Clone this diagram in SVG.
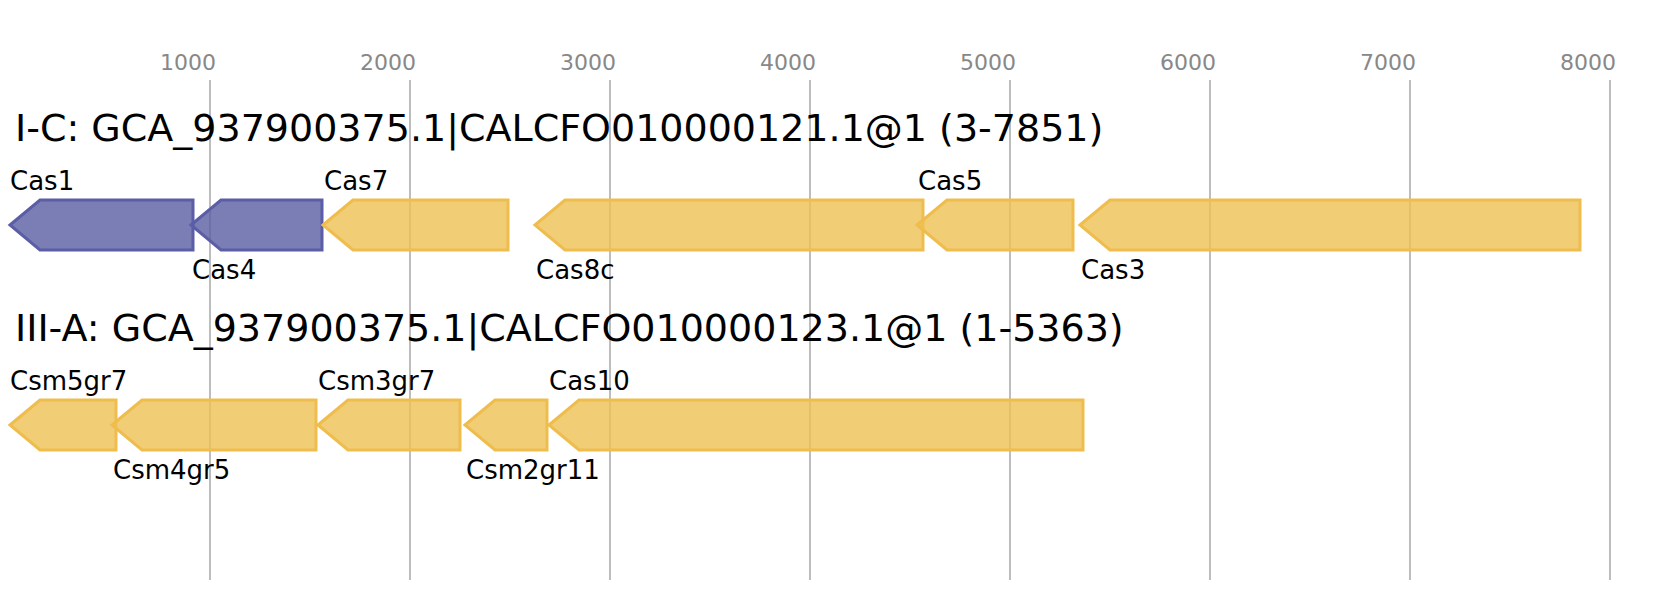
<svg xmlns="http://www.w3.org/2000/svg" width="1670" height="600" viewBox="0 0 1670 600">
<style>
  .grid { stroke: #bdbdbd; stroke-width: 2; }
  .tick { font-family: "DejaVu Sans", sans-serif; font-size: 22px; fill: #888888; text-anchor: middle; }
  .title { font-family: "DejaVu Sans", sans-serif; font-size: 38px; fill: #000000; }
  .lbl { font-family: "DejaVu Sans", sans-serif; font-size: 26px; fill: #000000; }
  .blue { fill: #5a5ca2; fill-opacity: 0.8; stroke: #5b5ea6; stroke-width: 3; }
  .yel { fill: #eec054; fill-opacity: 0.8; stroke: #efbd4d; stroke-width: 3; }
</style>
<rect width="1670" height="600" fill="#ffffff"/>
<g id="axis">
  <line class="grid" x1="210" y1="80" x2="210" y2="580"/>
  <line class="grid" x1="410" y1="80" x2="410" y2="580"/>
  <line class="grid" x1="610" y1="80" x2="610" y2="580"/>
  <line class="grid" x1="810" y1="80" x2="810" y2="580"/>
  <line class="grid" x1="1010" y1="80" x2="1010" y2="580"/>
  <line class="grid" x1="1210" y1="80" x2="1210" y2="580"/>
  <line class="grid" x1="1410" y1="80" x2="1410" y2="580"/>
  <line class="grid" x1="1610" y1="80" x2="1610" y2="580"/>
  <text class="tick" x="188" y="70">1000</text>
  <text class="tick" x="388" y="70">2000</text>
  <text class="tick" x="588" y="70">3000</text>
  <text class="tick" x="788" y="70">4000</text>
  <text class="tick" x="988" y="70">5000</text>
  <text class="tick" x="1188" y="70">6000</text>
  <text class="tick" x="1388" y="70">7000</text>
  <text class="tick" x="1588" y="70">8000</text>
</g>
<g id="title1"><text class="title" x="15" y="141">I-C: GCA_937900375.1|CALCFO010000121.1@1 (3-7851)</text></g>
<g id="title2"><text class="title" x="15" y="341">III-A: GCA_937900375.1|CALCFO010000123.1@1 (1-5363)</text></g>
<g id="connectors"></g>
<g id="Cas1"><polygon class="blue" points="10,225 40,200 193,200 193,250 40,250"/><text class="lbl" x="10" y="190">Cas1</text></g>
<g id="Cas4"><polygon class="blue" points="191,225 221,200 322,200 322,250 221,250"/><text class="lbl" x="192" y="279">Cas4</text></g>
<g id="Cas7"><polygon class="yel" points="323,225 353,200 508,200 508,250 353,250"/><text class="lbl" x="324" y="190">Cas7</text></g>
<g id="Cas8c"><polygon class="yel" points="535,225 565,200 923,200 923,250 565,250"/><text class="lbl" x="536" y="279">Cas8c</text></g>
<g id="Cas5"><polygon class="yel" points="917,225 947,200 1073,200 1073,250 947,250"/><text class="lbl" x="918" y="190">Cas5</text></g>
<g id="Cas3"><polygon class="yel" points="1080,225 1110,200 1580,200 1580,250 1110,250"/><text class="lbl" x="1081" y="279">Cas3</text></g>
<g id="Csm5gr7"><polygon class="yel" points="10,425 40,400 116,400 116,450 40,450"/><text class="lbl" x="10" y="390">Csm5gr7</text></g>
<g id="Csm4gr5"><polygon class="yel" points="112,425 142,400 316,400 316,450 142,450"/><text class="lbl" x="113" y="479">Csm4gr5</text></g>
<g id="Csm3gr7"><polygon class="yel" points="318,425 348,400 460,400 460,450 348,450"/><text class="lbl" x="318" y="390">Csm3gr7</text></g>
<g id="Csm2gr11"><polygon class="yel" points="465,425 495,400 547,400 547,450 495,450"/><text class="lbl" x="466" y="479">Csm2gr11</text></g>
<g id="Cas10"><polygon class="yel" points="549,425 579,400 1083,400 1083,450 579,450"/><text class="lbl" x="549" y="390">Cas10</text></g>
</svg>
